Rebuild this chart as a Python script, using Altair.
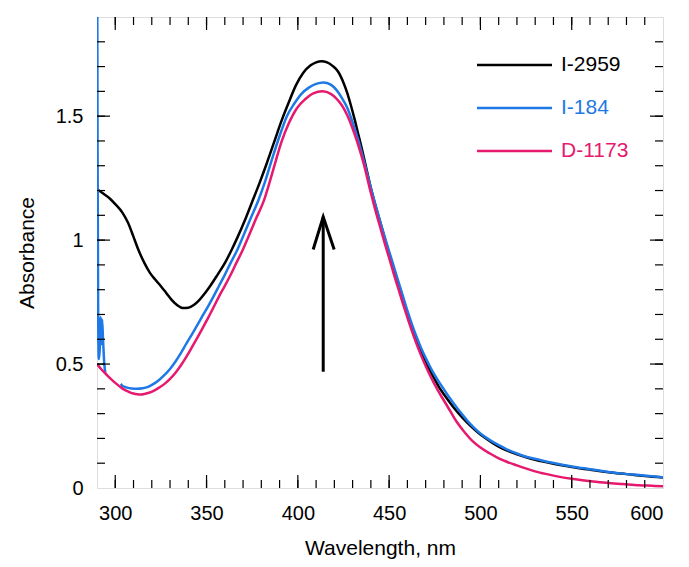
import altair as alt
import pandas as pd

# ---------------- data ----------------
series_names = ["I-2959", "I-184", "D-1173"]
series_colors = ["#000000", "#1E78E6", "#E6196E"]

wl_2959 = [290, 293, 297, 300, 304, 307, 310, 313, 316, 319, 322, 325, 328, 331, 334, 337,
           340, 343, 346, 349, 352, 356, 360, 363.7, 367, 371, 375, 379, 383, 387, 391, 395,
           399, 403, 407, 410, 413, 416, 419, 422, 425, 427, 429, 431, 433, 435, 437.5, 440,
           442.5, 445, 447.5, 450, 452.5, 455, 457.5, 460, 462.5, 465, 467.5, 470, 472.5, 475,
           477.5, 480, 485, 490, 495, 500, 505, 510, 515, 520, 525, 530, 540, 550, 560, 570,
           580, 590, 600]
abs_2959 = [1.205, 1.19, 1.168, 1.145, 1.11, 1.07, 1.013, 0.955, 0.907, 0.868, 0.84, 0.814,
            0.786, 0.758, 0.737, 0.726, 0.727, 0.738, 0.758, 0.785, 0.815, 0.86, 0.907, 0.96,
            1.012, 1.08, 1.155, 1.23, 1.31, 1.395, 1.48, 1.555, 1.625, 1.675, 1.705, 1.717,
            1.722, 1.717, 1.703, 1.68, 1.635, 1.595, 1.545, 1.49, 1.43, 1.37, 1.29, 1.21,
            1.14, 1.075, 1.01, 0.945, 0.885, 0.82, 0.76, 0.70, 0.648, 0.598, 0.552, 0.51,
            0.472, 0.438, 0.405, 0.378, 0.328, 0.285, 0.248, 0.216, 0.19, 0.167, 0.15, 0.136,
            0.124, 0.114, 0.098, 0.085, 0.074, 0.064, 0.056, 0.048, 0.042]

# I-184: short noisy piece at the start, then the main trace
wl_184_a = [290, 290.3, 290.6, 291.0, 291.5, 292.0, 292.4, 292.8, 293.3, 294.0, 294.6]
abs_184_a = [2.6, 1.4, 0.75, 0.52, 0.56, 0.69, 0.58, 0.68, 0.60, 0.50, 0.465]
wl_184_b = [303, 304, 306, 309, 312, 315, 318, 321, 324, 327, 330, 333, 336, 339, 342, 345,
            348, 351, 353.7, 357, 360, 363, 366.8, 370, 374, 378.4, 382, 386, 390, 394, 398,
            402, 406, 410, 414, 418, 421, 424, 427, 430, 433, 436, 440, 442.5, 445, 447.5,
            450, 452.5, 455, 457.5, 460, 462.5, 465, 467.5, 470, 472.5, 475, 477.8, 480, 483,
            487, 490, 493, 496, 500, 505, 510, 514.4, 520, 525, 532.6, 540, 550.9, 560, 569,
            578, 587, 594, 600]
abs_184_b = [0.42, 0.412, 0.406, 0.401, 0.40, 0.402, 0.408, 0.42, 0.436, 0.456, 0.48, 0.51,
             0.545, 0.583, 0.62, 0.658, 0.697, 0.735, 0.771, 0.818, 0.86, 0.905, 0.96, 1.015,
             1.085, 1.161, 1.235, 1.33, 1.42, 1.50, 1.55, 1.59, 1.615, 1.63, 1.636, 1.627,
             1.607, 1.575, 1.535, 1.475, 1.405, 1.325, 1.21, 1.142, 1.078, 1.015, 0.955,
             0.895, 0.835, 0.775, 0.715, 0.66, 0.61, 0.565, 0.525, 0.488, 0.455, 0.422, 0.398,
             0.365, 0.325, 0.297, 0.27, 0.247, 0.22, 0.194, 0.173, 0.156, 0.139, 0.126, 0.113,
             0.101, 0.086, 0.076, 0.066, 0.058, 0.052, 0.047, 0.043]

wl_1173 = [290, 292, 294, 296, 298, 300, 302, 304, 306, 308, 310, 312, 314, 316, 318, 321,
           324, 327, 330, 333, 336, 339, 342, 345, 348, 351, 353.7, 357, 360, 363, 366, 369.8,
           373, 377, 381.5, 385, 388, 391, 395, 399.4, 404, 408.5, 413.5, 418, 421, 424, 427,
           430, 433, 436, 440, 442.5, 445, 447.5, 450, 452.5, 455, 457.5, 460, 462.5, 465,
           467.5, 470, 472.5, 475, 477.8, 480, 483.5, 487, 491, 496, 500, 505, 510, 514.4,
           520, 526, 532.6, 540, 550.9, 560, 569, 578, 587, 594, 600]
abs_1173 = [0.50, 0.482, 0.466, 0.451, 0.437, 0.424, 0.412, 0.401, 0.393, 0.386, 0.381,
            0.378, 0.377, 0.379, 0.383, 0.392, 0.405, 0.42, 0.44, 0.465, 0.495, 0.53, 0.568,
            0.607, 0.647, 0.688, 0.727, 0.775, 0.815, 0.857, 0.903, 0.96, 1.015, 1.085, 1.161,
            1.245, 1.322, 1.395, 1.47, 1.531, 1.568, 1.592, 1.60, 1.59, 1.572, 1.545, 1.505,
            1.45, 1.385, 1.31, 1.19, 1.12, 1.055, 0.99, 0.928, 0.865, 0.805, 0.745, 0.688,
            0.633, 0.582, 0.535, 0.492, 0.453, 0.417, 0.38, 0.353, 0.31, 0.267, 0.228, 0.187,
            0.163, 0.14, 0.12, 0.106, 0.091, 0.076, 0.062, 0.05, 0.036, 0.028, 0.021, 0.016,
            0.011, 0.009, 0.007]

# arrow annotation (data coordinates)
arrow_shaft_x = [413.9, 413.9]
arrow_shaft_y = [0.469, 1.094]
arrow_head_x = [408.4, 413.9, 419.9]
arrow_head_y = [0.962, 1.094, 0.962]

# axis ticks / labels
x_labels = [300, 350, 400, 450, 500, 550, 600]
x_minor = [300, 310, 320, 330, 340, 350, 360, 370, 380, 390, 400, 410, 420, 430, 440, 450,
           460, 470, 480, 490, 500, 510, 520, 530, 540, 550, 560, 570, 580, 590]
y_labels = [0, 0.5, 1, 1.5]
y_minor = [0.1, 0.2, 0.3, 0.4, 0.5, 0.6, 0.7, 0.8, 0.9, 1.0, 1.1, 1.2, 1.3, 1.4, 1.5, 1.6,
           1.7, 1.8]
y_major_ticks = [0.5, 1.0, 1.5]
x_major_ticks = [300, 350, 400, 450, 500, 550]

# ---------------- build tables ----------------
rows = []
for w, a in zip(wl_2959, abs_2959):
    rows.append({"wl": w, "a": a, "series": "I-2959", "seg": "I-2959"})
for w, a in zip(wl_184_a, abs_184_a):
    rows.append({"wl": w, "a": a, "series": "I-184", "seg": "I-184a"})
for w, a in zip(wl_184_b, abs_184_b):
    rows.append({"wl": w, "a": a, "series": "I-184", "seg": "I-184b"})
for w, a in zip(wl_1173, abs_1173):
    rows.append({"wl": w, "a": a, "series": "D-1173", "seg": "D-1173"})
df = pd.DataFrame(rows)
df["ord"] = range(len(df))

W, H = 566, 471
FONT = "Liberation Sans"
xs = alt.Scale(domain=[290, 600], nice=False, zero=False)
ys = alt.Scale(domain=[0, 1.9], nice=False, zero=True)

curves = alt.Chart(df).mark_line(clip=True, strokeWidth=2.5, interpolate="monotone").encode(
    x=alt.X("wl:Q", scale=xs, axis=alt.Axis(
        values=x_labels, tickSize=0, domain=False, grid=False, labelFontSize=20,
        labelPadding=15, labelFont=FONT, labelColor="black",
        title="Wavelength, nm", titleFontSize=21, titleFontWeight="normal", titleFont=FONT,
        titleColor="black", titleY=66, titleBaseline="alphabetic")),
    y=alt.Y("a:Q", scale=ys, axis=alt.Axis(
        values=y_labels, format="~g", tickSize=0, domain=False, grid=False,
        labelFontSize=20, labelPadding=14, labelFont=FONT, labelColor="black",
        title="Absorbance", titleFontSize=21, titleFontWeight="normal", titleFont=FONT,
        titleColor="black", titleX=-70, titleY=H / 2, titleBaseline="middle")),
    color=alt.Color("series:N", scale=alt.Scale(domain=series_names, range=series_colors),
                    legend=None),
    detail="seg:N",
    order="ord:Q",
)

arrow_df = pd.DataFrame(
    [{"wl": w, "a": a, "part": "shaft", "k": i} for i, (w, a) in enumerate(zip(arrow_shaft_x, arrow_shaft_y))]
    + [{"wl": w, "a": a, "part": "head", "k": i} for i, (w, a) in enumerate(zip(arrow_head_x, arrow_head_y))]
)
arrow = alt.Chart(arrow_df).mark_line(color="black", strokeWidth=3, strokeJoin="miter",
                                      strokeCap="butt").encode(
    x=alt.X("wl:Q", scale=xs), y=alt.Y("a:Q", scale=ys), detail="part:N", order="k:Q")

# inward ticks on all four sides
def xticks(vals, length):
    d = pd.DataFrame({"wl": vals})
    bot = alt.Chart(d).mark_rule(color="black", strokeWidth=1.2).encode(
        x=alt.X("wl:Q", scale=xs), y=alt.value(H), y2=alt.value(H - length))
    top = alt.Chart(d).mark_rule(color="black", strokeWidth=1.2).encode(
        x=alt.X("wl:Q", scale=xs), y=alt.value(0), y2=alt.value(length))
    return [bot, top]

def yticks(vals, length):
    d = pd.DataFrame({"a": vals})
    left = alt.Chart(d).mark_rule(color="black", strokeWidth=1.2).encode(
        y=alt.Y("a:Q", scale=ys), x=alt.value(0), x2=alt.value(length))
    right = alt.Chart(d).mark_rule(color="black", strokeWidth=1.2).encode(
        y=alt.Y("a:Q", scale=ys), x=alt.value(W - length), x2=alt.value(W))
    return [left, right]

tick_layers = xticks(x_minor, 8) + xticks(x_major_ticks, 13) + yticks(y_minor, 8) + yticks(y_major_ticks, 13)

# legend drawn as lines + text
legend_layers = []
legend_y = [48, 91, 134]
for name, col, yy in zip(series_names, series_colors, legend_y):
    d = alt.Data(values=[{"s": name}])
    legend_layers.append(alt.Chart(d).mark_rule(color=col, strokeWidth=2.5).encode(
        x=alt.value(380), x2=alt.value(455), y=alt.value(yy)))
    legend_layers.append(alt.Chart(d).mark_text(
        color=col, fontSize=21, font=FONT, align="left", baseline="middle").encode(
        x=alt.value(464), y=alt.value(yy), text="s:N"))

chart = alt.layer(curves, arrow, *tick_layers, *legend_layers).properties(
    width=W, height=H,
    padding={"left": 89, "top": 9, "right": 18, "bottom": 71},
    autosize=alt.AutoSizeParams(type="none"),
).configure_view(stroke="black", strokeWidth=1.5).configure(font=FONT, background="white")

chart.save("out.html", embed_options={"renderer": "svg", "actions": False})
